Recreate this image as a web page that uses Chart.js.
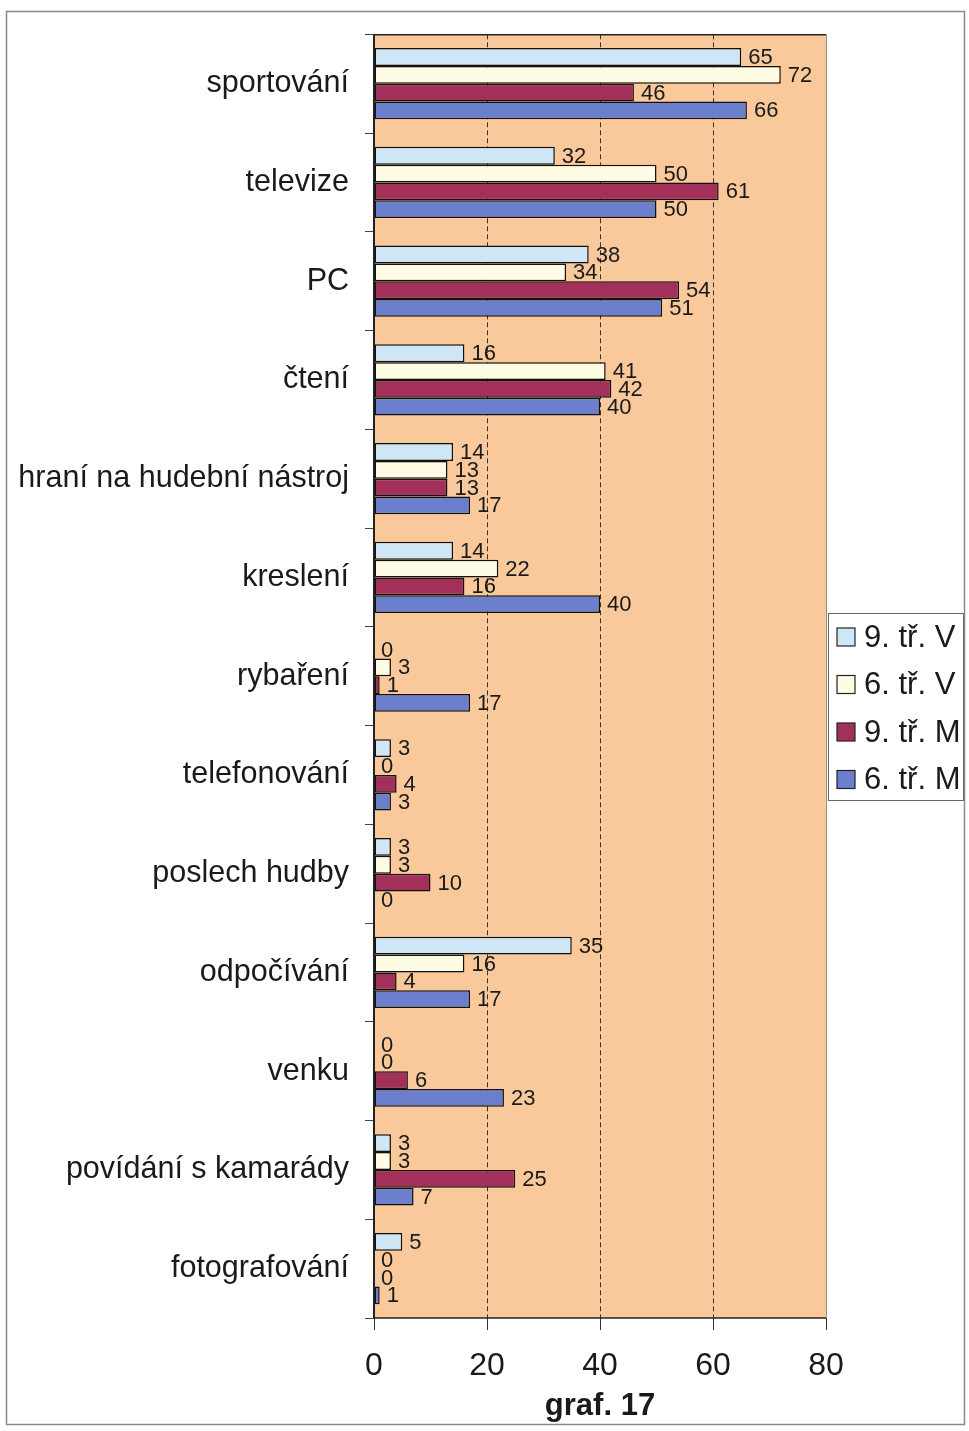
<!DOCTYPE html>
<html>
<head>
<meta charset="utf-8">
<script src="https://cdn.jsdelivr.net/npm/chart.js@4/dist/chart.umd.min.js"></script>
<style>
  html, body { margin: 0; padding: 0; background: #fff; }
  canvas { display: block; }
</style>
</head>
<body>
<canvas id="graf" width="969" height="1431"></canvas>
<script>
// data
var categories = ["sportování", "televize", "PC", "čtení", "hraní na hudební nástroj",
  "kreslení", "rybaření", "telefonování", "poslech hudby", "odpočívání", "venku",
  "povídání s kamarády", "fotografování"];
var seriesNames = ["9. tř. V", "6. tř. V", "9. tř. M", "6. tř. M"];
var trida9V = [65, 32, 38, 16, 14, 14, 0, 3, 3, 35, 0, 3, 5];
var trida6V = [72, 50, 34, 41, 13, 22, 3, 0, 3, 16, 0, 3, 0];
var trida9M = [46, 61, 54, 42, 13, 16, 1, 4, 10, 4, 6, 25, 0];
var trida6M = [66, 50, 51, 40, 17, 40, 17, 3, 0, 17, 23, 7, 1];
var xMax = 80;
var xStep = 20;
var chartTitle = "graf. 17";

var colors = ["#CFE6F6", "#FFFCE6", "#A3305A", "#6B7FCD"];
var FONT = "'Liberation Sans', Arial, sans-serif";

function makeSet(i, values) {
  return {
    label: seriesNames[i],
    data: values,
    backgroundColor: colors[i],
    borderColor: "#111",
    borderWidth: 1.5,
    borderSkipped: false,
    barPercentage: 1.0,
    categoryPercentage: 0.72
  };
}

// background, frame, value labels and legend
var extras = {
  id: "extras",
  beforeDraw: function(chart) {
    var c = chart.ctx, a = chart.chartArea;
    c.save();
    c.fillStyle = "#fff";
    c.fillRect(0, 0, chart.width, chart.height);
    c.strokeStyle = "#8a8a8a";
    c.lineWidth = 1.5;
    c.strokeRect(6.5, 11.5, 958, 1413);
    c.fillStyle = "#F9C99B";
    c.fillRect(a.left, a.top, a.right - a.left, a.bottom - a.top);
    c.restore();
  },
  afterDatasetsDraw: function(chart) {
    var c = chart.ctx, a = chart.chartArea;
    c.save();
    // frame of the plot area
    c.lineWidth = 1;
    c.strokeStyle = "#909090";
    c.beginPath();
    c.moveTo(a.right + 0.5, a.top);
    c.lineTo(a.right + 0.5, a.bottom);
    c.stroke();
    c.strokeStyle = "#222";
    c.lineWidth = 1.5;
    c.beginPath();
    c.moveTo(a.left, a.top + 0.5);
    c.lineTo(a.right, a.top + 0.5);
    c.moveTo(a.left, a.bottom);
    c.lineTo(a.right, a.bottom);
    c.stroke();
    c.lineWidth = 2;
    c.beginPath();
    c.moveTo(a.left, a.top);
    c.lineTo(a.left, a.bottom);
    c.stroke();

    // value labels
    c.fillStyle = "#1a1a1a";
    c.font = "22px " + FONT;
    c.textAlign = "left";
    c.textBaseline = "middle";
    chart.data.datasets.forEach(function(ds, i) {
      chart.getDatasetMeta(i).data.forEach(function(bar, j) {
        c.fillText(String(ds.data[j]), bar.x + 7, bar.y + 1);
      });
    });

    // legend
    c.fillStyle = "#fff";
    c.fillRect(828, 613, 136, 188);
    c.strokeStyle = "#666";
    c.lineWidth = 1;
    c.strokeRect(828.5, 613.5, 135, 187);
    c.font = "31px " + FONT;
    chart.data.datasets.forEach(function(ds, i) {
      var cy = 637 + i * 47.5;
      c.fillStyle = ds.backgroundColor;
      c.fillRect(837, cy - 9, 18, 18);
      c.strokeStyle = "#222";
      c.lineWidth = 1.2;
      c.strokeRect(837, cy - 9, 18, 18);
      c.fillStyle = "#1a1a1a";
      c.fillText(ds.label, 864, cy + 1);
    });
    c.restore();
  }
};

new Chart(document.getElementById("graf"), {
  type: "bar",
  data: {
    labels: categories,
    datasets: [makeSet(0, trida9V), makeSet(1, trida6V), makeSet(2, trida9M), makeSet(3, trida6M)]
  },
  options: {
    indexAxis: "y",
    responsive: false,
    animation: false,
    devicePixelRatio: 1,
    layout: { padding: { top: 32, right: 143, bottom: 0, left: 0 } },
    plugins: {
      legend: { display: false },
      tooltip: { enabled: false }
    },
    scales: {
      x: {
        min: 0,
        max: xMax,
        ticks: {
          stepSize: xStep,
          color: "#1a1a1a",
          padding: 17,
          font: { family: FONT, size: 32 }
        },
        grid: {
          color: function(ctx) {
            var v = ctx.tick ? ctx.tick.value : 0;
            return (v > 0 && v < xMax) ? "#333" : "rgba(0,0,0,0)";
          },
          lineWidth: 1,
          tickColor: "#333",
          tickLength: 12
        },
        border: { display: false, dash: [5, 3] },
        title: {
          display: true,
          text: chartTitle,
          color: "#1a1a1a",
          font: { family: FONT, size: 31, weight: "bold" },
          padding: { top: 2, bottom: 6 }
        },
        afterFit: function(scale) { scale.height = 113; }
      },
      y: {
        ticks: {
          color: "#1a1a1a",
          padding: 16,
          autoSkip: false,
          font: { family: FONT, size: 30.5 }
        },
        grid: {
          drawOnChartArea: false,
          color: "#444",
          tickLength: 9
        },
        border: { display: false },
        afterFit: function(scale) { scale.width = 374; }
      }
    }
  },
  plugins: [extras]
});
</script>
</body>
</html>
